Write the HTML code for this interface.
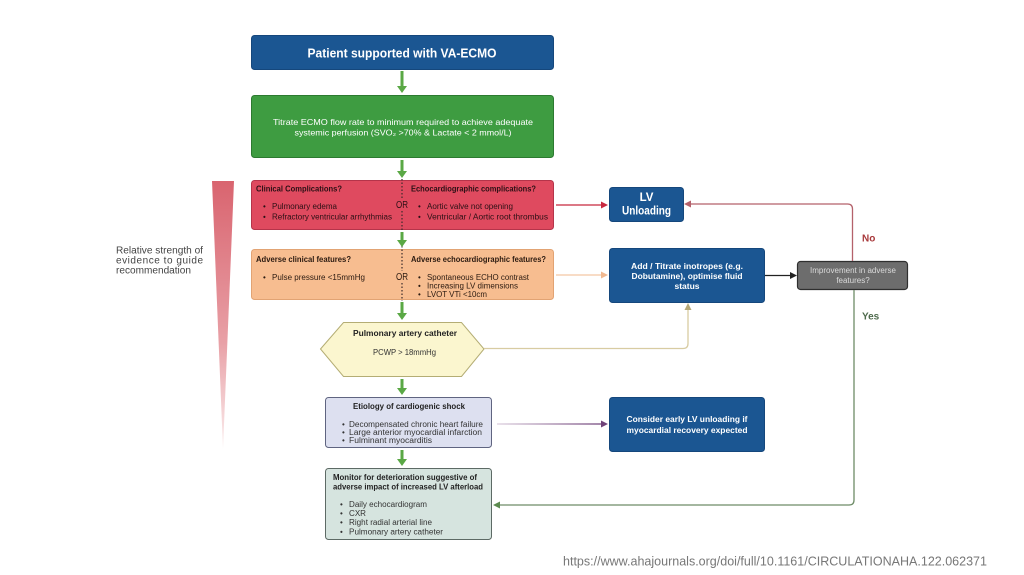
<!DOCTYPE html>
<html>
<head>
<meta charset="utf-8">
<style>
  html,body{margin:0;padding:0;background:#fff;}
  body{width:1024px;height:575px;overflow:hidden;}
  svg{display:block;}
  text{font-family:"Liberation Sans", Arial, sans-serif;}
</style>
</head>
<body>
<svg width="1024" height="575" viewBox="0 0 1024 575" xmlns="http://www.w3.org/2000/svg">
  <defs>
    <linearGradient id="tri" x1="0" y1="0" x2="0" y2="1">
      <stop offset="0" stop-color="#d9646f"/>
      <stop offset="0.6" stop-color="#e8a0a6"/>
      <stop offset="1" stop-color="#fbeeee"/>
    </linearGradient>
    <linearGradient id="purp" gradientUnits="userSpaceOnUse" x1="497" y1="0" x2="607" y2="0">
      <stop offset="0" stop-color="#ddd0df"/>
      <stop offset="1" stop-color="#6f4279"/>
    </linearGradient>
  </defs>

  <!-- evidence triangle -->
  <polygon points="212,181 234,181 223,449" fill="url(#tri)"/>
  <text x="116" y="253.5" font-size="10" fill="#444" textLength="87" lengthAdjust="spacingAndGlyphs">Relative strength of</text>
  <text x="116" y="263.5" font-size="10" fill="#444" textLength="87" lengthAdjust="spacing">evidence to guide</text>
  <text x="116" y="273.5" font-size="10" fill="#444" textLength="75" lengthAdjust="spacingAndGlyphs">recommendation</text>

  <!-- Top blue box -->
  <rect x="251.5" y="35.5" width="302" height="34" rx="3" fill="#1b5692" stroke="#15477c"/>
  <text x="402" y="57.5" font-size="13" font-weight="bold" fill="#fff" text-anchor="middle" textLength="189" lengthAdjust="spacingAndGlyphs">Patient supported with VA-ECMO</text>

  <!-- Green box -->
  <rect x="251.5" y="95.5" width="302" height="62" rx="3" fill="#3e9c41" stroke="#2c7a30"/>
  <text x="403" y="125" font-size="8.5" fill="#fff" text-anchor="middle" textLength="260" lengthAdjust="spacingAndGlyphs">Titrate ECMO flow rate to minimum required to achieve adequate</text>
  <text x="403" y="135.5" font-size="8.5" fill="#fff" text-anchor="middle" textLength="217" lengthAdjust="spacingAndGlyphs">systemic perfusion (SVO₂ &gt;70% &amp; Lactate &lt; 2 mmol/L)</text>

  <!-- Red box -->
  <rect x="251.5" y="180.5" width="302" height="49" rx="3" fill="#df4a5f" stroke="#b5344a"/>
  <text x="256" y="191.5" font-size="8" font-weight="bold" fill="#2b1015" textLength="86" lengthAdjust="spacingAndGlyphs">Clinical Complications?</text>
  <text x="411" y="191.5" font-size="8" font-weight="bold" fill="#2b1015" textLength="125" lengthAdjust="spacingAndGlyphs">Echocardiographic complications?</text>
  <text x="263" y="209" font-size="8" fill="#2b1015">•</text>
  <text x="272" y="209" font-size="8" fill="#2b1015" textLength="65" lengthAdjust="spacingAndGlyphs">Pulmonary edema</text>
  <text x="263" y="219.5" font-size="8" fill="#2b1015">•</text>
  <text x="272" y="219.5" font-size="8" fill="#2b1015" textLength="120" lengthAdjust="spacingAndGlyphs">Refractory ventricular arrhythmias</text>
  <text x="396" y="208" font-size="10" fill="#2b1015" textLength="12" lengthAdjust="spacingAndGlyphs">OR</text>
  <text x="418" y="209" font-size="8" fill="#2b1015">•</text>
  <text x="427" y="209" font-size="8" fill="#2b1015" textLength="86" lengthAdjust="spacingAndGlyphs">Aortic valve not opening</text>
  <text x="418" y="219.5" font-size="8" fill="#2b1015">•</text>
  <text x="427" y="219.5" font-size="8" fill="#2b1015" textLength="121" lengthAdjust="spacingAndGlyphs">Ventricular / Aortic root thrombus</text>

  <!-- Orange box -->
  <rect x="251.5" y="249.5" width="302" height="50" rx="3" fill="#f7bd90" stroke="#e2a373"/>
  <text x="256" y="262" font-size="8" font-weight="bold" fill="#2b1a10" textLength="95" lengthAdjust="spacingAndGlyphs">Adverse clinical features?</text>
  <text x="411" y="262" font-size="8" font-weight="bold" fill="#2b1a10" textLength="135" lengthAdjust="spacingAndGlyphs">Adverse echocardiographic features?</text>
  <text x="263" y="280" font-size="8" fill="#2b1a10">•</text>
  <text x="272" y="280" font-size="8" fill="#2b1a10" textLength="93" lengthAdjust="spacingAndGlyphs">Pulse pressure &lt;15mmHg</text>
  <text x="396" y="280" font-size="10" fill="#2b1a10" textLength="12" lengthAdjust="spacingAndGlyphs">OR</text>
  <text x="418" y="280" font-size="8" fill="#2b1a10">•</text>
  <text x="427" y="280" font-size="8" fill="#2b1a10" textLength="102" lengthAdjust="spacingAndGlyphs">Spontaneous ECHO contrast</text>
  <text x="418" y="288.5" font-size="8" fill="#2b1a10">•</text>
  <text x="427" y="288.5" font-size="8" fill="#2b1a10" textLength="91" lengthAdjust="spacingAndGlyphs">Increasing LV dimensions</text>
  <text x="418" y="297" font-size="8" fill="#2b1a10">•</text>
  <text x="427" y="297" font-size="8" fill="#2b1a10" textLength="60" lengthAdjust="spacingAndGlyphs">LVOT VTi &lt;10cm</text>

  <!-- dotted divider (broken around OR) -->
  <g stroke="#3a2a2a" stroke-width="1.2" stroke-dasharray="1.5,2">
    <line x1="402" y1="179" x2="402" y2="199"/>
    <line x1="402" y1="211" x2="402" y2="271"/>
    <line x1="402" y1="283" x2="402" y2="301"/>
  </g>

  <!-- Hexagon -->
  <polygon points="320.5,349 343.5,322.5 461.5,322.5 484,349 461.5,376.5 343.5,376.5" fill="#fbf6cf" stroke="#b4ad74"/>
  <text x="405" y="336" font-size="8" font-weight="bold" fill="#222" text-anchor="middle" textLength="104" lengthAdjust="spacingAndGlyphs">Pulmonary artery catheter</text>
  <text x="404.5" y="355" font-size="8" fill="#333" text-anchor="middle" textLength="63" lengthAdjust="spacingAndGlyphs">PCWP &gt; 18mmHg</text>

  <!-- Etiology box -->
  <rect x="325.5" y="397.5" width="166" height="50" rx="3" fill="#dde0f0" stroke="#5f6480"/>
  <text x="409" y="409" font-size="8" font-weight="bold" fill="#222" text-anchor="middle" textLength="112" lengthAdjust="spacingAndGlyphs">Etiology of cardiogenic shock</text>
  <text x="342" y="427" font-size="8" fill="#333">•</text>
  <text x="349" y="427" font-size="8" fill="#333" textLength="134" lengthAdjust="spacingAndGlyphs">Decompensated chronic heart failure</text>
  <text x="342" y="435" font-size="8" fill="#333">•</text>
  <text x="349" y="435" font-size="8" fill="#333" textLength="133" lengthAdjust="spacingAndGlyphs">Large anterior myocardial infarction</text>
  <text x="342" y="443" font-size="8" fill="#333">•</text>
  <text x="349" y="443" font-size="8" fill="#333" textLength="83" lengthAdjust="spacingAndGlyphs">Fulminant myocarditis</text>

  <!-- Monitor box -->
  <rect x="325.5" y="468.5" width="166" height="71" rx="3" fill="#d6e4df" stroke="#5d6a65"/>
  <text x="333" y="480" font-size="8" font-weight="bold" fill="#222" textLength="144" lengthAdjust="spacingAndGlyphs">Monitor for deterioration suggestive of</text>
  <text x="333" y="489.5" font-size="8" font-weight="bold" fill="#222" textLength="150" lengthAdjust="spacingAndGlyphs">adverse impact of increased LV afterload</text>
  <text x="340" y="507" font-size="8" fill="#333">•</text>
  <text x="349" y="507" font-size="8" fill="#333" textLength="78" lengthAdjust="spacingAndGlyphs">Daily echocardiogram</text>
  <text x="340" y="516" font-size="8" fill="#333">•</text>
  <text x="349" y="516" font-size="8" fill="#333" textLength="17" lengthAdjust="spacingAndGlyphs">CXR</text>
  <text x="340" y="525" font-size="8" fill="#333">•</text>
  <text x="349" y="525" font-size="8" fill="#333" textLength="83" lengthAdjust="spacingAndGlyphs">Right radial arterial line</text>
  <text x="340" y="534.5" font-size="8" fill="#333">•</text>
  <text x="349" y="534.5" font-size="8" fill="#333" textLength="94" lengthAdjust="spacingAndGlyphs">Pulmonary artery catheter</text>

  <!-- Green vertical arrows -->
  <g fill="#5aa845" stroke="none">
    <rect x="400.5" y="71" width="3" height="16"/><polygon points="397,86 407,86 402,93"/>
    <rect x="400.5" y="160" width="3" height="12"/><polygon points="397,171 407,171 402,178"/>
    <rect x="400.5" y="232" width="3" height="9"/><polygon points="397,240 407,240 402,247"/>
    <rect x="400.5" y="302" width="3" height="12"/><polygon points="397,313 407,313 402,320"/>
    <rect x="400.5" y="379" width="3" height="10"/><polygon points="397,388 407,388 402,395"/>
    <rect x="400.5" y="450" width="3" height="10"/><polygon points="397,459 407,459 402,466"/>
  </g>

  <!-- LV Unloading -->
  <rect x="609.5" y="187.5" width="74" height="34" rx="3" fill="#1b5692" stroke="#15477c"/>
  <text x="646.5" y="201" font-size="11.5" font-weight="bold" fill="#fff" text-anchor="middle">LV</text>
  <text x="646.5" y="214.5" font-size="11.5" font-weight="bold" fill="#fff" text-anchor="middle" textLength="49" lengthAdjust="spacingAndGlyphs">Unloading</text>

  <!-- Add / Titrate -->
  <rect x="609.5" y="248.5" width="155" height="54" rx="3" fill="#1b5692" stroke="#15477c"/>
  <text x="687" y="269" font-size="8.5" font-weight="bold" fill="#fff" text-anchor="middle" textLength="112" lengthAdjust="spacingAndGlyphs">Add / Titrate inotropes (e.g.</text>
  <text x="687" y="279" font-size="8.5" font-weight="bold" fill="#fff" text-anchor="middle" textLength="111" lengthAdjust="spacingAndGlyphs">Dobutamine), optimise fluid</text>
  <text x="687" y="289" font-size="8.5" font-weight="bold" fill="#fff" text-anchor="middle">status</text>

  <!-- Improvement -->
  <rect x="797.5" y="261.5" width="110" height="28" rx="3" fill="#6d6d6d" stroke="#2f2f2f" stroke-width="1.2"/>
  <text x="853" y="273" font-size="8" fill="#dadada" text-anchor="middle" textLength="86" lengthAdjust="spacingAndGlyphs">Improvement in adverse</text>
  <text x="853" y="283" font-size="8" fill="#dadada" text-anchor="middle">features?</text>

  <!-- Consider -->
  <rect x="609.5" y="397.5" width="155" height="54" rx="3" fill="#1b5692" stroke="#15477c"/>
  <text x="687" y="422" font-size="8.5" font-weight="bold" fill="#fff" text-anchor="middle" textLength="121" lengthAdjust="spacingAndGlyphs">Consider early LV unloading if</text>
  <text x="687" y="433" font-size="8.5" font-weight="bold" fill="#fff" text-anchor="middle" textLength="121" lengthAdjust="spacingAndGlyphs">myocardial recovery expected</text>

  <!-- connectors -->
  <line x1="556" y1="205" x2="602" y2="205" stroke="#c8283f" stroke-width="1.3"/>
  <polygon points="601,201.5 608,205 601,208.5" fill="#c8283f"/>
  <line x1="556" y1="275" x2="602" y2="275" stroke="#f3c6a5" stroke-width="1.3"/>
  <polygon points="601,271.5 608,275 601,278.5" fill="#f0b890"/>
  <path d="M484,348.5 H683 Q688,348.5 688,343.5 V309" fill="none" stroke="#d8cca2" stroke-width="1.3"/>
  <polygon points="684.5,310 688,303 691.5,310" fill="#b5a878"/>
  <rect x="497" y="423.35" width="105" height="1.3" fill="url(#purp)"/>
  <polygon points="601,420.5 608,424 601,427.5" fill="#6f4279"/>
  <line x1="765" y1="275.5" x2="791" y2="275.5" stroke="#222" stroke-width="1.2"/>
  <polygon points="790,272 797,275.5 790,279" fill="#222"/>
  <path d="M852.5,261 V209 Q852.5,204 847.5,204 H690" fill="none" stroke="#b4616b" stroke-width="1.3"/>
  <polygon points="691,200.5 684,204 691,207.5" fill="#b4616b"/>
  <text x="862" y="241.5" font-size="10" font-weight="bold" fill="#a8383a">No</text>
  <path d="M854,290 V500 Q854,505 849,505 H499" fill="none" stroke="#6e8c67" stroke-width="1.3"/>
  <polygon points="500,501.5 493,505 500,508.5" fill="#5c8a4f"/>
  <text x="862" y="319.5" font-size="10" font-weight="bold" fill="#4e6a4c">Yes</text>

  <!-- URL -->
  <text x="563" y="565.5" font-size="12.5" fill="#777" textLength="424" lengthAdjust="spacingAndGlyphs">https://www.ahajournals.org/doi/full/10.1161/CIRCULATIONAHA.122.062371</text>
</svg>
</body>
</html>
